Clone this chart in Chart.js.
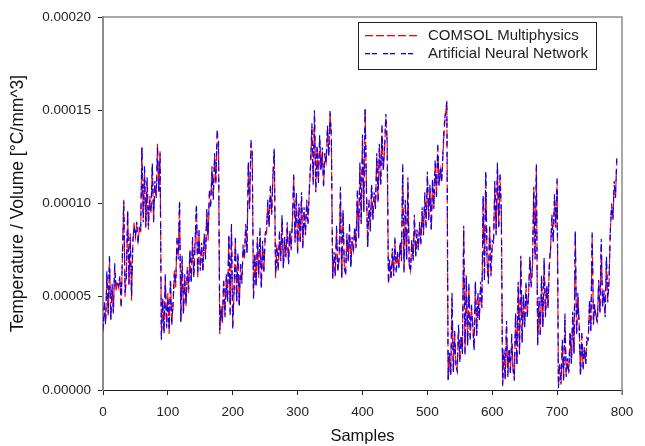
<!DOCTYPE html>
<html>
<head>
<meta charset="utf-8">
<script src="https://cdn.jsdelivr.net/npm/chart.js@4/dist/chart.umd.min.js"></script>
<style>
  html, body { margin: 0; padding: 0; background: #ffffff; }
  #wrap { width: 645px; height: 446px; }
</style>
</head>
<body>
<div id="wrap"><canvas id="c" width="645" height="446"></canvas></div>
<script>
// ---- data (values in units of 1e-6 °C/mm^3), one value every SAMPLE_STEP samples ----
const SAMPLE_STEP = 2;
const VALUE_UNIT = 1e-6;
const seriesNames = ["COMSOL Multiphysics", "Artificial Neural Network"];
const xTicks = [0, 100, 200, 300, 400, 500, 600, 700, 800];
const yTicks = [0.00000, 0.00005, 0.00010, 0.00015, 0.00020];

const comsol = [
  31,45,36,62,40,70,38,55,42,66, 53,58,55,60, 44,72,102,50, 62,95,56,84,48,78,90, 82,88,80,86, 84,130,92,118, 88,112,86,104,95,120,92,110, 104,132,106,128,
  28,48,31,60,33,52,30,58,36, 45,64,55,80,72,100, 37,70,42,60, 45,66,52,74,58,80,62,78,98, 60,84,66,77,64,82,72,95,80,105, 100,118,104,125,110,137,134,
  30,45,36,58,40,60,48,82,42, 87,34, 52,80,48,72,45,66,58,76, 70,87,74, 121,99,132,126,
  50,72,56,80,60,85,55,78,64,82, 84,100,88,108,95,114,128,
  60,78,64,83,70,92,66,80,72,88,68,84,76, 90,114,80,104,74, 98,80,104,77,96,84,100,90,106, 120,141,112,148,107,130, 112,135,118,128,110,125,122,140,126,148,135,
  59,72,62,86,64,70, 107,60,95,66, 63,82,70,87,66,80,75,86, 77,105,82,120,90,135,96,150,110, 77,100,86,109,92,104,98,125,102,130,110,140,118, 128,146,134,
  57,68,60,74,62,80,64,72,66,78,70, 119,64,100,70,112,68, 64,79,70,92,72,84,76,88, 79,96,84,104,88,115,92,108,86,112,98,121,104,130,110,118,112,126, 140,148,155,
  5,18,8,50,10,30,14, 11,33,16,28,20, 86,20,60, 24,55,28,44,35, 22,57,30,50,38,56,45, 103,60,116,70, 58,86,62,78, 80,110,84,120,88,114,96,
  2,20,6,35,8,21,10,28,12, 6,40,14,56,20,70,26,50,34,56,40, 52,70,56,66, 107,71,119,
  25,48,30,60,34,69,40,55,45,66, 77,92,80,103,88,112,
  2,12,4,25,6,39,8,15,10,30, 15,40,20,84,30,50,35, 8,29,12,22,14,26, 28,47,32,83,36,44,40, 37,57,42,79,45,52,40,70,48,57, 86,98,92,110,104,123
];

const ann = [
  33,47,35,64,41,72,37,57,41,68, 55,57,56,61, 45,74,101,52, 60,97,57,82,50,80,88, 83,90,79,87, 86,131,90,120, 87,114,88,102,96,122,90,112, 103,130,105,127,
  27,50,30,62,34,50,31,60,35, 47,62,57,82,70,102, 36,72,40,62, 46,64,54,76,57,82,60,80,100, 62,86,64,79,63,84,70,97,82,107, 98,120,102,127,112,139,133,
  32,44,37,60,39,62,47,84,40, 89,33, 54,82,47,74,44,68,57,78, 72,89,73, 123,97,134,127,
  49,74,55,82,61,87,54,80,63,84, 86,102,87,110,94,116,130,
  62,76,65,85,69,94,65,82,71,90,67,86,75, 92,116,79,106,73, 100,79,106,76,98,83,102,89,108, 122,143,110,150,106,132, 111,137,117,130,109,127,121,142,125,150,136,
  60,74,61,88,63,72, 109,59,97,65, 62,84,69,89,65,82,74,88, 76,107,81,122,89,137,95,152,108, 76,102,85,111,91,106,97,127,101,132,109,142,117, 130,148,133,
  58,70,59,76,61,82,63,74,65,80,69, 121,63,102,69,114,67, 63,81,69,94,71,86,75,90, 78,98,83,106,87,117,91,110,85,114,97,123,103,132,109,120,111,128, 142,150,154,
  4,20,7,52,9,32,13, 10,35,15,30,19, 88,19,62, 23,57,27,46,34, 21,59,29,52,37,58,44, 105,59,118,69, 57,88,61,80, 79,112,83,122,87,116,95,
  3,22,5,37,7,23,9,30,11, 5,42,13,58,19,72,25,52,33,58,39, 51,72,55,68, 109,70,121,
  24,50,29,62,33,71,39,57,44,68, 76,94,79,105,87,114,
  1,14,3,27,5,41,7,17,9,32, 14,42,19,86,29,52,34, 7,31,11,24,13,28, 27,49,31,85,35,46,39, 36,59,41,81,44,54,39,72,47,59, 85,100,91,112,103,125
];

// ---- styling ----
const FONT = "Arial, 'Liberation Sans', Helvetica, sans-serif";
const RED = "#ff0000";
const BLUE = "#0000ff";
const RED_DASH = [8, 3];
const BLUE_DASH = [5, 2, 5, 6];

function toPoints(arr) {
  return arr.map((v, i) => ({ x: i * SAMPLE_STEP, y: v * VALUE_UNIT }));
}

const framePlugin = {
  id: 'frame',
  afterDatasetsDraw(chart) {
    const { ctx, chartArea: a } = chart;
    ctx.save();
    ctx.setLineDash([]);
    ctx.strokeStyle = '#8c8c8c';
    ctx.lineWidth = 1.5;
    ctx.beginPath();
    ctx.moveTo(a.left, a.top);
    ctx.lineTo(a.right, a.top);
    ctx.lineTo(a.right, a.bottom + 5);
    ctx.stroke();
    ctx.restore();
  }
};

function dashedHLine(ctx, x0, x1, y, pattern, color) {
  ctx.fillStyle = color;
  let x = x0, k = 0;
  while (x < x1) {
    const len = pattern[k % pattern.length];
    if (k % 2 === 0) ctx.fillRect(x, y, Math.min(len, x1 - x), 1.3);
    x += len;
    k++;
  }
}

const boxLegendPlugin = {
  id: 'boxLegend',
  afterDraw(chart) {
    const { ctx } = chart;
    const bx = 358.5, by = 22.5, bw = 238, bh = 47;
    ctx.save();
    ctx.setLineDash([]);
    ctx.fillStyle = '#ffffff';
    ctx.fillRect(bx, by, bw, bh);
    ctx.strokeStyle = '#222222';
    ctx.lineWidth = 1;
    ctx.strokeRect(bx, by, bw, bh);
    const rows = [
      { label: seriesNames[0], color: RED, dash: RED_DASH, y: 35 },
      { label: seriesNames[1], color: BLUE, dash: BLUE_DASH, y: 53 }
    ];
    ctx.font = "15px " + FONT;
    ctx.textBaseline = 'middle';
    ctx.textAlign = 'left';
    rows.forEach(r => {
      dashedHLine(ctx, 365, 417, r.y, r.dash, r.color);
      ctx.fillStyle = '#222222';
      ctx.fillText(r.label, 428, r.y + 0.5);
    });
    ctx.restore();
  }
};

new Chart(document.getElementById('c'), {
  type: 'line',
  data: {
    datasets: [
      {
        label: seriesNames[0],
        data: toPoints(comsol),
        borderColor: RED,
        borderWidth: 1.2,
        borderDash: RED_DASH,
        pointRadius: 0,
        tension: 0,
        fill: false,
        order: 2
      },
      {
        label: seriesNames[1],
        data: toPoints(ann),
        borderColor: BLUE,
        borderWidth: 1.2,
        borderDash: BLUE_DASH,
        pointRadius: 0,
        tension: 0,
        fill: false,
        order: 1
      }
    ]
  },
  options: {
    responsive: false,
    animation: false,
    devicePixelRatio: 1,
    layout: { padding: { top: 17, right: 23, bottom: 0, left: 0 } },
    plugins: {
      legend: { display: false },
      tooltip: { enabled: false },
      title: { display: false }
    },
    scales: {
      x: {
        type: 'linear',
        min: xTicks[0],
        max: xTicks[xTicks.length - 1],
        afterFit(scale) { scale.height = 56; },
        afterBuildTicks(scale) { scale.ticks = xTicks.map(v => ({ value: v })); },
        ticks: {
          color: '#222222',
          font: { family: FONT, size: 13.5 },
          padding: 9,
          maxRotation: 0,
          callback: v => String(v)
        },
        grid: {
          display: true,
          drawOnChartArea: false,
          drawTicks: true,
          tickLength: 5,
          color: '#222222',
          lineWidth: 1
        },
        border: { display: true, color: '#222222', width: 1 },
        title: {
          display: true,
          text: 'Samples',
          color: '#111111',
          font: { family: FONT, size: 16.5 },
          padding: { top: 0, bottom: 0 }
        }
      },
      y: {
        type: 'linear',
        min: yTicks[0],
        max: yTicks[yTicks.length - 1],
        afterFit(scale) { scale.width = 103; },
        afterBuildTicks(scale) { scale.ticks = yTicks.map(v => ({ value: v })); },
        ticks: {
          color: '#222222',
          font: { family: FONT, size: 13.5 },
          padding: 7,
          callback: v => Number(v).toFixed(5)
        },
        grid: {
          display: true,
          drawOnChartArea: false,
          drawTicks: true,
          tickLength: 5,
          color: '#222222',
          lineWidth: 1
        },
        border: { display: true, color: '#8c8c8c', width: 2 },
        title: {
          display: true,
          text: 'Temperature / Volume [°C/mm^3]',
          color: '#111111',
          font: { family: FONT, size: 17.5 },
          padding: { top: 8, bottom: 8 }
        }
      }
    }
  },
  plugins: [framePlugin, boxLegendPlugin]
});
</script>
</body>
</html>
